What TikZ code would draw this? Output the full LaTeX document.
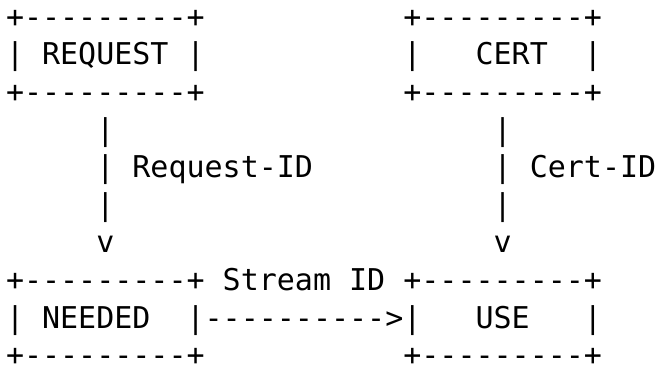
\documentclass[tikz,border=0pt]{standalone}
\usepackage{fontspec}
\setmonofont{DejaVu Sans Mono}
\usetikzlibrary{positioning}
\tikzset{ascii/.style={font=\ttfamily\fontsize{15}{18.8}\selectfont, inner sep=0pt, outer sep=0pt, align=left}}

\begin{document}
\begin{tikzpicture}
\useasboundingbox (0,0) rectangle (328pt,-183pt);
\node[ascii, anchor=north west] (request) at (3pt,-0.44pt) {\strut+---------+\\\strut|~REQUEST~|\\\strut+---------+};
\node[ascii, below=0pt of request] (reqlink) {\strut|\\\strut|\\\strut|\\\strut v};
\node[ascii, below right=18.8pt and 9.03pt of reqlink.north east] (reqlabel) {\strut Request-ID};
\node[ascii, below=0pt of reqlink] (needed) {\strut+---------+\\\strut|~NEEDED~~|\\\strut+---------+};
\node[ascii, right=0pt of needed] (streamlink) {\strut---------->};
\node[ascii, above=0pt of streamlink] (streamlabel) {\strut Stream~ID};
\node[ascii, right=0pt of streamlink] (use) {\strut+---------+\\\strut|~~~USE~~~|\\\strut+---------+};
\node[ascii, above=0pt of use] (certlink) {\strut|\\\strut|\\\strut|\\\strut v};
\node[ascii, below right=18.8pt and 9.03pt of certlink.north east] (certlabel) {\strut Cert-ID};
\node[ascii, above=0pt of certlink] (cert) {\strut+---------+\\\strut|~~~CERT~~|\\\strut+---------+};
\end{tikzpicture}
\end{document}
